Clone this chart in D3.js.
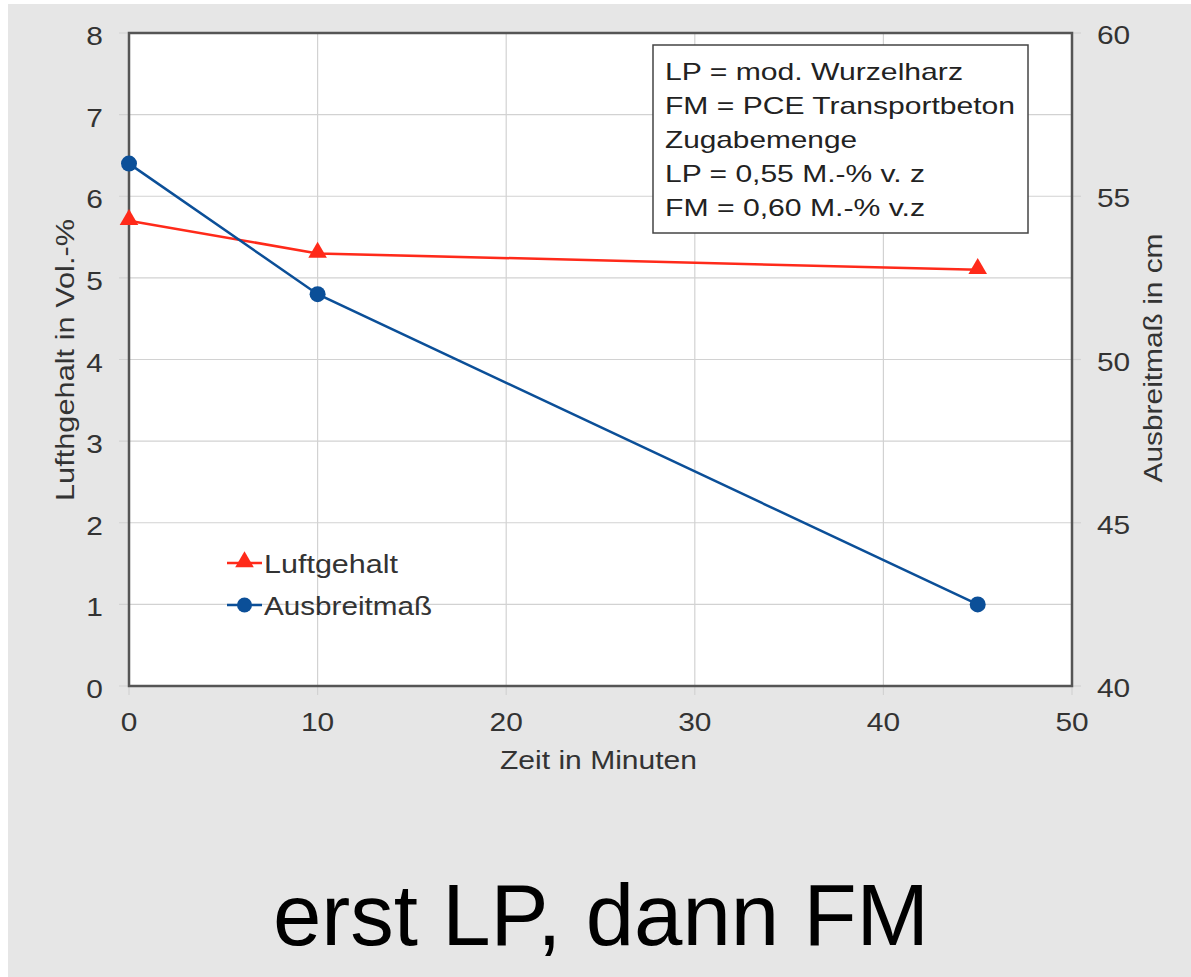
<!DOCTYPE html>
<html><head><meta charset="utf-8">
<script src="https://cdn.jsdelivr.net/npm/d3@7"></script>
<style>
html,body{margin:0;padding:0;background:#fff;}
text{font-family:"Liberation Sans",Arial,sans-serif;}
</style></head>
<body>
<script>
// Data
const zeit = [0, 10, 45];
const luftgehalt = [5.7, 5.3, 5.1];
const ausbreitmass = [56, 52, 42.5];
const xTicks = [0, 10, 20, 30, 40, 50];
const yLeftTicks = [0, 1, 2, 3, 4, 5, 6, 7, 8];
const yRightTicks = [40, 45, 50, 55, 60];
const seriesNames = ["Luftgehalt", "Ausbreitmaß"];
const noteLines = ["LP = mod. Wurzelharz", "FM = PCE Transportbeton", "Zugabemenge", "LP = 0,55 M.-% v. z", "FM = 0,60 M.-% v.z"];

const W = 1191, H = 977;
const svg = d3.select("body").append("svg").attr("width", W).attr("height", H);
svg.append("rect").attr("x", 8).attr("y", 4).attr("width", W - 8).attr("height", H - 4).attr("fill", "#e6e6e6");

const L = 129, R = 1072, T = 33, B = 686;
const x = d3.scaleLinear().domain([0, 50]).range([L, R]);
const yL = d3.scaleLinear().domain([0, 8]).range([B, T]);
const yR = d3.scaleLinear().domain([40, 60]).range([B, T]);

const txtCol = "#333";
const SX = 1.15; // horizontal stretch of the chart text
const digitW = 26 * 0.556 * SX;

svg.append("rect").attr("x", L).attr("y", T).attr("width", R - L).attr("height", B - T).attr("fill", "#fff");

// gridlines
const g = svg.append("g");
g.selectAll(".hg").data(yLeftTicks).join("line")
  .attr("x1", L - 10).attr("x2", R).attr("y1", d => yL(d)).attr("y2", d => yL(d))
  .attr("stroke", "#d2d2d2").attr("stroke-width", 1.2);
g.selectAll(".vg").data(xTicks).join("line")
  .attr("x1", d => x(d)).attr("x2", d => x(d)).attr("y1", T).attr("y2", B + 9)
  .attr("stroke", "#d2d2d2").attr("stroke-width", 1.2);
g.selectAll(".rt").data(yRightTicks).join("line")
  .attr("x1", R).attr("x2", R + 9).attr("y1", d => yR(d)).attr("y2", d => yR(d))
  .attr("stroke", "#d2d2d2").attr("stroke-width", 1.2);

// frame
svg.append("rect").attr("x", L).attr("y", T).attr("width", R - L).attr("height", B - T)
  .attr("fill", "none").attr("stroke", "#555").attr("stroke-width", 2.5);

// tick labels
function fit(sel, fn) {
  sel.attr("textLength", fn).attr("lengthAdjust", "spacingAndGlyphs");
}
fit(svg.selectAll(".yl").data(yLeftTicks).join("text")
  .attr("x", L - 26).attr("y", d => yL(d) + 3).attr("dy", "0.35em").attr("text-anchor", "end")
  .attr("font-size", 26).attr("fill", txtCol).text(d => d), d => String(d).length * digitW);
fit(svg.selectAll(".yr").data(yRightTicks).join("text")
  .attr("x", R + 25).attr("y", d => yR(d) + 2).attr("dy", "0.35em").attr("text-anchor", "start")
  .attr("font-size", 26).attr("fill", txtCol).text(d => d), d => String(d).length * digitW);
fit(svg.selectAll(".xl").data(xTicks).join("text")
  .attr("x", d => x(d)).attr("y", B + 45).attr("text-anchor", "middle")
  .attr("font-size", 26).attr("fill", txtCol).text(d => d), d => String(d).length * digitW);

// axis titles
svg.append("text").attr("x", 598.5).attr("y", 769).attr("text-anchor", "middle")
  .attr("font-size", 26).attr("fill", txtCol).attr("textLength", 197).attr("lengthAdjust", "spacingAndGlyphs")
  .text("Zeit in Minuten");
svg.append("text").attr("transform", `translate(74,360) rotate(-90)`).attr("text-anchor", "middle")
  .attr("font-size", 25).attr("fill", txtCol).attr("textLength", 282).attr("lengthAdjust", "spacingAndGlyphs")
  .text("Lufthgehalt in Vol.-%");
svg.append("text").attr("transform", `translate(1162,358) rotate(-90)`).attr("text-anchor", "middle")
  .attr("font-size", 25).attr("fill", txtCol).attr("textLength", 249).attr("lengthAdjust", "spacingAndGlyphs")
  .text("Ausbreitmaß in cm");

// series
const red = "#ff2a1a", blue = "#0b4f98";
const lineL = d3.line().x((d, i) => x(zeit[i])).y(d => yL(d));
const lineR = d3.line().x((d, i) => x(zeit[i])).y(d => yR(d));
svg.append("path").attr("d", lineL(luftgehalt)).attr("fill", "none").attr("stroke", red).attr("stroke-width", 2.5);
svg.append("path").attr("d", lineR(ausbreitmass)).attr("fill", "none").attr("stroke", blue).attr("stroke-width", 2.5);
const tri = d3.symbol().type(d3.symbolTriangle).size(150);
svg.selectAll(".tri").data(luftgehalt).join("path")
  .attr("d", tri).attr("transform", (d, i) => `translate(${x(zeit[i])},${yL(d) - 1})`).attr("fill", red);
svg.selectAll(".dot").data(ausbreitmass).join("circle")
  .attr("cx", (d, i) => x(zeit[i])).attr("cy", d => yR(d)).attr("r", 8).attr("fill", blue);

// legend
const legY = [563, 605];
const legW = [134, 168];
const cols = [red, blue];
seriesNames.forEach((n, i) => {
  const lg = svg.append("g");
  lg.append("line").attr("x1", 227).attr("x2", 262).attr("y1", legY[i]).attr("y2", legY[i])
    .attr("stroke", cols[i]).attr("stroke-width", 2.5);
  if (i === 0) lg.append("path").attr("d", tri).attr("transform", `translate(244.5,${legY[i] - 1})`).attr("fill", red);
  else lg.append("circle").attr("cx", 244.5).attr("cy", legY[i]).attr("r", 7.5).attr("fill", blue);
  lg.append("text").attr("x", 264).attr("y", legY[i] + 1).attr("dy", "0.35em")
    .attr("font-size", 25).attr("fill", txtCol).attr("textLength", legW[i]).attr("lengthAdjust", "spacingAndGlyphs").text(n);
});

// note box
const noteW = [298, 350, 192, 260, 260];
svg.append("rect").attr("x", 653).attr("y", 45).attr("width", 375).attr("height", 188)
  .attr("fill", "#fff").attr("stroke", "#444").attr("stroke-width", 1.5);
svg.selectAll(".note").data(noteLines).join("text")
  .attr("x", 665).attr("y", (d, i) => 72 + i * 34).attr("dy", "0.35em")
  .attr("font-size", 24).attr("fill", "#222")
  .attr("textLength", (d, i) => noteW[i]).attr("lengthAdjust", "spacingAndGlyphs").text(d => d);

// big title
svg.append("text").attr("x", 601).attr("y", 945).attr("text-anchor", "middle")
  .attr("font-size", 87).attr("fill", "#000").text("erst LP, dann FM");
</script>
</body></html>
